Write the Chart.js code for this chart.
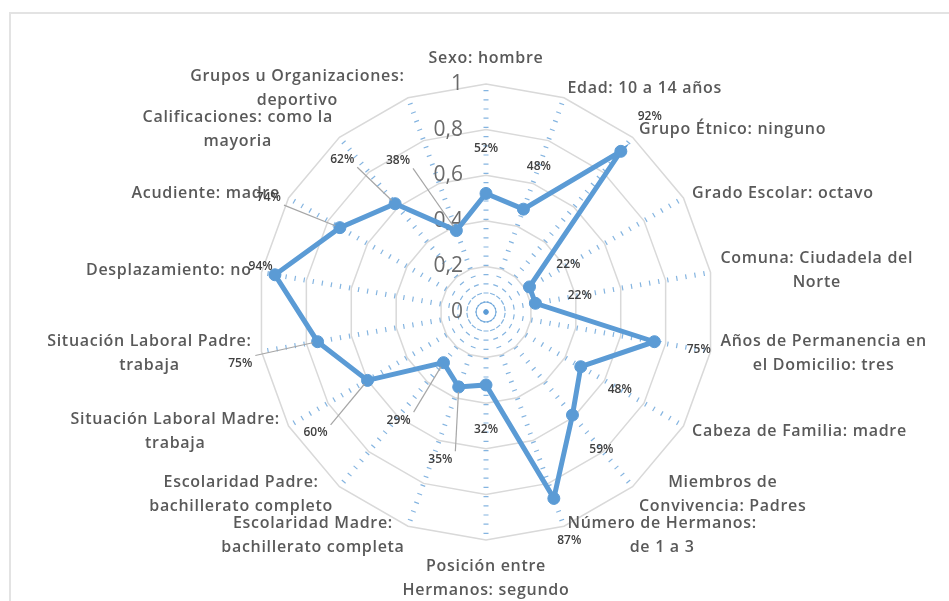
<!DOCTYPE html>
<html><head><meta charset="utf-8">
<script src="https://cdn.jsdelivr.net/npm/chart.js@4/dist/chart.umd.min.js"></script>
<style>
html,body{margin:0;padding:0;background:#fff;overflow:hidden;}
#wrap{position:relative;width:949px;height:601px;overflow:hidden;background:#fff;}
#frame{position:absolute;left:9px;top:12px;width:2000px;height:2000px;border-top:2px solid #e3e3e3;border-left:2px solid #e3e3e3;}
canvas{position:absolute;left:0;top:0;}
</style></head><body>
<div id="wrap"><div id="frame"></div><canvas id="c" width="949" height="601"></canvas></div>
<script>
// ---- data ----
const categories = [
  ["Sexo: hombre"],
  ["Edad: 10 a 14 años"],
  ["Grupo Étnico: ninguno"],
  ["Grado Escolar: octavo"],
  ["Comuna: Ciudadela del", "Norte"],
  ["Años de Permanencia en", "el Domicilio: tres"],
  ["Cabeza de Familia: madre"],
  ["Miembros de", "Convivencia: Padres"],
  ["Número de Hermanos:", "de 1 a 3"],
  ["Posición entre", "Hermanos: segundo"],
  ["Escolaridad Madre:", "bachillerato completa"],
  ["Escolaridad Padre:", "bachillerato completo"],
  ["Situación Laboral Madre:", "trabaja"],
  ["Situación Laboral Padre:", "trabaja"],
  ["Desplazamiento: no"],
  ["Acudiente: madre"],
  ["Calificaciones: como la", "mayoria"],
  ["Grupos u Organizaciones:", "deportivo"]
];
const values = [0.52, 0.48, 0.92, 0.22, 0.22, 0.75, 0.48, 0.59, 0.87, 0.32, 0.35, 0.29, 0.60, 0.75, 0.94, 0.74, 0.62, 0.38];
const tickValues = [0, 0.2, 0.4, 0.6, 0.8, 1];
const tickLabels = ["0", "0,2", "0,4", "0,6", "0,8", "1"];

// ---- layout tweaks for data labels (pixel nudges from default outside position) ----
const labelNudgeX = [0,0,0,0,0,0,0,0,0,0,-3,-16,-13,-33,30,-32,-24,-43];
const labelNudgeY = [0,0,0,0,0,0,0,0,0,0,30,23,30,14,0,-8,-10,-28];

const BLUE = '#5b9bd5';
const TEXT = '#595959';

const decor = {
  id: 'decor',
  beforeDatasetsDraw(chart) {
    const sc = chart.scales.r, ctx = chart.ctx;
    ctx.save();
    // tick labels
    ctx.font = '21px "Open Sans", sans-serif';
    ctx.fillStyle = '#6a6a6a';
    ctx.textAlign = 'right';
    ctx.textBaseline = 'middle';
    tickValues.forEach((v, k) => {
      const d = sc.getDistanceFromCenterForValue(v);
      ctx.fillText(tickLabels[k], sc.xCenter - 23, sc.yCenter - d);
    });
    // category labels
    const R = sc.drawingArea;
    ctx.font = '600 16px "Open Sans", sans-serif';
    try { ctx.letterSpacing = '0.7px'; } catch (e) {}
    ctx.fillStyle = TEXT;
    ctx.textAlign = 'center';
    const lh = 24, n = categories.length;
    categories.forEach((lines, i) => {
      const ang = i * 360 / n;
      const p = sc.getPointPosition(i, R + 10);
      const w = Math.max(...lines.map(l => ctx.measureText(l).width));
      let cx;
      if (ang === 0 || ang === 180) cx = p.x;
      else if (ang < 180) cx = p.x + w / 2;
      else cx = p.x - w / 2;
      const h = lines.length * lh;
      let cy;
      if (ang === 0) cy = sc.yCenter - R - 14 - h / 2;
      else if (ang === 180) cy = sc.yCenter + R + 14 + h / 2;
      else cy = p.y;
      lines.forEach((l, k) => ctx.fillText(l, cx, cy - h / 2 + lh * (k + 0.5)));
    });
    ctx.restore();
  },
  afterDatasetsDraw(chart) {
    const sc = chart.scales.r, ctx = chart.ctx;
    const meta = chart.getDatasetMeta(0);
    ctx.save();
    ctx.font = '600 12px "Open Sans", sans-serif';
    ctx.textAlign = 'center';
    ctx.textBaseline = 'middle';
    values.forEach((v, i) => {
      const pt = meta.data[i];
      const base = sc.getPointPosition(i, sc.getDistanceFromCenterForValue(v) + 45);
      const x = base.x + labelNudgeX[i], y = base.y + labelNudgeY[i];
      const txt = Math.round(v * 100) + '%';
      const tw = ctx.measureText(txt).width;
      if (labelNudgeX[i] !== 0 || labelNudgeY[i] !== 0) {
        const bx0 = x - tw / 2 - 3, bx1 = x + tw / 2 + 3, by0 = y - 8, by1 = y + 8;
        const sx = Math.min(Math.max(pt.x, bx0), bx1);
        const sy = Math.min(Math.max(pt.y, by0), by1);
        const dx = pt.x - sx, dy = pt.y - sy, dl = Math.hypot(dx, dy);
        if (dl > 8) {
          ctx.strokeStyle = '#a6a6a6';
          ctx.lineWidth = 1.2;
          ctx.beginPath();
          ctx.moveTo(sx, sy);
          ctx.lineTo(pt.x - dx / dl * 5, pt.y - dy / dl * 5);
          ctx.stroke();
        }
      }
      ctx.fillStyle = '#404040';
      ctx.fillText(txt, x, y);
    });
    ctx.restore();
  }
};

new Chart(document.getElementById('c'), {
  type: 'radar',
  data: {
    labels: categories,
    datasets: [{
      data: values,
      borderColor: BLUE,
      backgroundColor: 'rgba(0,0,0,0)',
      borderWidth: 5,
      pointRadius: 6,
      pointBackgroundColor: BLUE,
      pointBorderColor: BLUE,
      pointBorderWidth: 1,
      fill: false,
      tension: 0
    }]
  },
  options: {
    responsive: false,
    animation: false,
    devicePixelRatio: 1,
    layout: { padding: { left: 258, right: 235, top: 84, bottom: 61 } },
    plugins: { legend: { display: false }, tooltip: { enabled: false } },
    scales: {
      r: {
        min: 0, max: 1,
        ticks: { stepSize: 0.2, display: false },
        pointLabels: { display: false },
        grid: { color: '#d9d9d9', lineWidth: 1.5 },
        angleLines: { color: 'rgba(91,155,213,0.75)', lineWidth: 5, borderDash: [1.2, 8] }
      }
    }
  },
  plugins: [decor]
});
</script>
</body></html>
